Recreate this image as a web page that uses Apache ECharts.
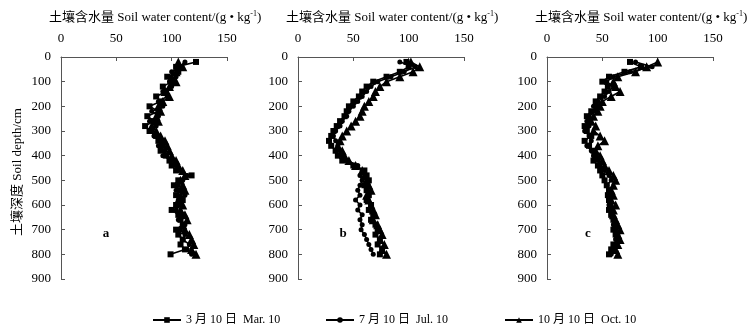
<!DOCTYPE html>
<html>
<head>
<meta charset="utf-8">
<script src="https://cdn.jsdelivr.net/npm/echarts@6/dist/echarts.min.js"></script>
<style>
  html, body { margin: 0; padding: 0; background: #fff; }
  #chart { width: 753px; height: 335px; }
</style>
</head>
<body>
<div id="chart"></div>
<script>
const depths = [20, 40, 60, 80, 100, 120, 140, 160, 180, 200, 220, 240, 260, 280, 300, 320, 340, 360, 380, 400,
  420, 440, 460, 480, 500, 520, 540, 560, 580, 600, 620, 640, 660, 680, 700, 720, 740, 760, 780, 800];

const names = ["3 月 10 日  Mar. 10", "7 月 10 日  Jul. 10", "10 月 10 日  Oct. 10"];
const panels = ["a", "b", "c"];

// soil water content (g/kg) by depth, per panel, per date
const marA = [122, 104, 106, 96, 100, 92, 95, 86, 90, 80, 88, 78, 84, 76, 80, 86, 88, 92, 90, 95, 98, 100, 104, 118, 106, 102, 108, 104, 110, 104, 100, 106, 108, 110, 104, 106, 110, 108, 112, 99];
const julA = [112, 108, 100, 104, 98, 100, 92, 96, 88, 92, 82, 88, 80, 86, 82, 84, 92, 88, 94, 92, 100, 104, 108, 114, 110, 106, 104, 112, 106, 108, 104, 110, 106, 112, 108, 112, 110, 116, 114, 118];
const octA = [106, 110, 104, 100, 104, 98, 94, 98, 92, 88, 90, 86, 88, 82, 86, 90, 94, 96, 98, 100, 104, 106, 110, 112, 108, 110, 112, 108, 106, 110, 108, 112, 114, 110, 112, 116, 118, 120, 118, 122];

const marB = [98, 100, 92, 80, 68, 62, 58, 55, 50, 46, 44, 42, 38, 35, 32, 30, 28, 30, 34, 36, 40, 50, 60, 62, 64, 60, 62, 64, 62, 66, 64, 68, 66, 70, 72, 70, 74, 72, 76, 74];
const julB = [92, 106, 96, 84, 72, 66, 62, 58, 54, 50, 46, 44, 40, 38, 34, 32, 34, 36, 38, 40, 44, 54, 58, 56, 58, 56, 54, 56, 52, 56, 54, 58, 56, 58, 57, 60, 62, 64, 66, 68];
const octB = [102, 110, 104, 92, 80, 74, 70, 68, 64, 60, 58, 56, 52, 48, 44, 40, 38, 36, 40, 42, 46, 52, 58, 60, 62, 64, 66, 62, 64, 66, 68, 70, 68, 72, 74, 76, 74, 78, 76, 80];

const marC = [75, 85, 70, 56, 50, 55, 52, 48, 44, 46, 40, 36, 38, 34, 36, 40, 34, 38, 42, 44, 42, 46, 48, 50, 52, 54, 56, 55, 56, 57, 56, 58, 60, 62, 60, 62, 64, 60, 58, 56];
const julC = [80, 95, 75, 60, 54, 60, 56, 52, 46, 42, 44, 38, 36, 38, 34, 38, 40, 36, 40, 42, 46, 48, 52, 56, 58, 54, 56, 58, 57, 56, 58, 58, 60, 60, 62, 64, 62, 62, 60, 58];
const octC = [100, 90, 80, 64, 60, 62, 66, 58, 50, 48, 46, 42, 40, 44, 42, 48, 52, 46, 44, 48, 50, 52, 56, 60, 62, 60, 58, 60, 58, 62, 60, 60, 62, 64, 66, 64, 66, 64, 62, 64];

const values = [
  [marA, julA, octA],
  [marB, julB, octB],
  [marC, julC, octC],
];

const serif = "'Liberation Serif', 'Times New Roman', 'Noto Sans CJK SC', serif";
const symbols = ["rect", "circle", "triangle"];
const symbolSizes = [6, 5, 9];

const gridLefts = [61, 298, 547];
const gridWidth = 166;

const grids = gridLefts.map((left) => ({ left, top: 57, width: gridWidth, height: 222 }));

const xAxes = gridLefts.map((_, i) => ({
  gridIndex: i,
  type: "value",
  position: "top",
  min: 0,
  max: 150,
  interval: 50,
  axisLine: { show: true, lineStyle: { color: "#555", width: 1 } },
  axisTick: { show: true, inside: true, length: 4, lineStyle: { color: "#555" } },
  axisLabel: { color: "#000", fontFamily: serif, fontSize: 13, margin: 12 },
  splitLine: { show: false },
}));

const yAxes = gridLefts.map((_, i) => ({
  gridIndex: i,
  type: "value",
  inverse: true,
  min: 0,
  max: 900,
  interval: 100,
  axisLine: { show: true, lineStyle: { color: "#555", width: 1 } },
  axisTick: { show: true, inside: true, length: 4, lineStyle: { color: "#555" } },
  axisLabel: { color: "#000", fontFamily: serif, fontSize: 13, margin: 10 },
  splitLine: { show: false },
}));

const series = [];
values.forEach((group, p) => {
  group.forEach((vals, s) => {
    series.push({
      name: names[s],
      type: "line",
      xAxisIndex: p,
      yAxisIndex: p,
      data: vals.map((v, k) => [v, depths[k]]),
      symbol: symbols[s],
      symbolSize: symbolSizes[s],
      showAllSymbol: true,
      lineStyle: { color: "#000", width: 1.6 },
      itemStyle: { color: "#000" },
      animation: false,
    });
  });
});

const titleText = "{a|土壤含水量 Soil water content/(g • kg}{s|-1}{a|)}";
const titles = gridLefts.map((left) => ({
  text: titleText,
  left: left - 17,
  top: 5,
  textStyle: {
    fontWeight: "normal",
    rich: {
      a: { fontFamily: serif, fontSize: 13, fontWeight: "normal", color: "#000" },
      s: { fontFamily: serif, fontSize: 8, fontWeight: "normal", color: "#000", padding: [0, 0, 7, 0] },
    },
  },
}));

const legendLefts = [147, 320, 499];
const legends = names.map((name, i) => ({
  data: [name],
  left: legendLefts[i],
  top: 309,
  itemWidth: 28,
  itemHeight: 7,
  itemGap: 6,
  textStyle: { fontFamily: serif, fontSize: 12, color: "#000" },
}));

const panelLabels = panels.map((label, i) => ({
  type: "text",
  x: [106, 343, 588][i],
  y: 234,
  style: { text: label, font: "bold 13px " + serif, fill: "#000", textAlign: "center", textVerticalAlign: "middle" },
}));

const option = {
  backgroundColor: "#fff",
  animation: false,
  title: titles,
  grid: grids,
  xAxis: xAxes,
  yAxis: yAxes,
  legend: legends,
  series,
  graphic: [
    {
      type: "text",
      x: 18,
      y: 172,
      rotation: Math.PI / 2,
      style: {
        text: "土壤深度 Soil depth/cm",
        font: "13px " + serif,
        fill: "#000",
        textAlign: "center",
        textVerticalAlign: "middle",
      },
    },
    ...panelLabels,
  ],
};

echarts.init(document.getElementById("chart")).setOption(option);
</script>
</body>
</html>
